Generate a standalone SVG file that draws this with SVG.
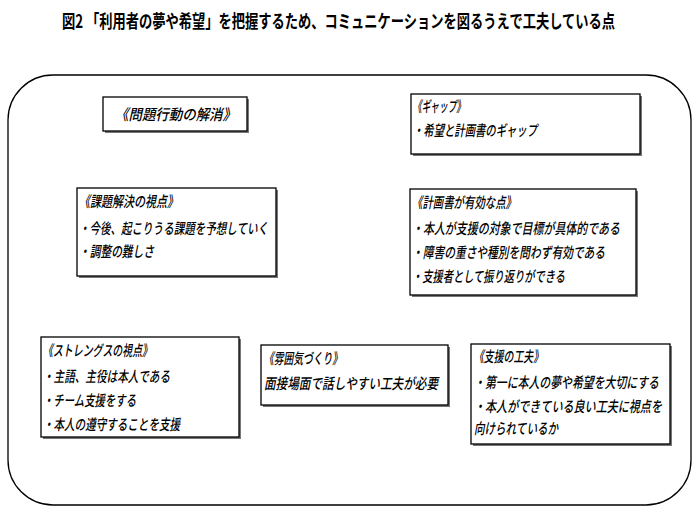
<svg xmlns="http://www.w3.org/2000/svg" width="700" height="514" viewBox="0 0 700 514">
<style>
text{font-family:"Noto Sans CJK JP","Noto Sans",sans-serif;font-size:15px;fill:#000;font-style:italic;font-weight:500}
.t{font-size:18px;font-weight:bold;font-style:normal}
.b{fill:#fff;stroke:#000;stroke-width:1.3}
.s{fill:#777}
</style>
<rect width="700" height="514" fill="#fff"/>
<text class="t" x="62" y="28" textLength="553" lengthAdjust="spacingAndGlyphs">図2 「利用者の夢や希望」を把握するため、コミュニケーションを図るうえで工夫している点</text>
<rect x="8" y="75" width="683" height="430" rx="45" fill="none" stroke="#000" stroke-width="1.3"/>
<g id="n1"><rect class="s" x="105" y="99" width="144" height="34"/><rect class="b" x="103" y="97" width="144" height="34"/>
<text x="115" y="120" textLength="121" lengthAdjust="spacingAndGlyphs">《問題行動の解消》</text></g>
<g id="n2"><rect class="s" x="413" y="96" width="229" height="60"/><rect class="b" x="411" y="94" width="229" height="60"/>
<text x="413" y="112" textLength="52" lengthAdjust="spacingAndGlyphs">《ギャップ》</text>
<text x="413" y="136" textLength="124" lengthAdjust="spacingAndGlyphs">・希望と計画書のギャップ</text></g>
<g id="n3"><rect class="s" x="79" y="190" width="199" height="88"/><rect class="b" x="77" y="188" width="199" height="88"/>
<text x="79" y="207" textLength="99" lengthAdjust="spacingAndGlyphs">《課題解決の視点》</text>
<text x="79" y="234" textLength="189" lengthAdjust="spacingAndGlyphs">・今後、起こりうる課題を予想していく</text>
<text x="79" y="257" textLength="75" lengthAdjust="spacingAndGlyphs">・調整の難しさ</text></g>
<g id="n4"><rect class="s" x="412" y="191" width="226" height="106"/><rect class="b" x="410" y="189" width="226" height="106"/>
<text x="412" y="208" textLength="104" lengthAdjust="spacingAndGlyphs">《計画書が有効な点》</text>
<text x="412" y="234" textLength="208" lengthAdjust="spacingAndGlyphs">・本人が支援の対象で目標が具体的である</text>
<text x="412" y="258" textLength="193" lengthAdjust="spacingAndGlyphs">・障害の重さや種別を問わず有効である</text>
<text x="412" y="282" textLength="153" lengthAdjust="spacingAndGlyphs">・支援者として振り返りができる</text></g>
<g id="n5"><rect class="s" x="43" y="339" width="198" height="100"/><rect class="b" x="41" y="337" width="198" height="100"/>
<text x="43" y="356" textLength="109" lengthAdjust="spacingAndGlyphs">《ストレングスの視点》</text>
<text x="43" y="382" textLength="127" lengthAdjust="spacingAndGlyphs">・主語、主役は本人である</text>
<text x="43" y="406" textLength="93" lengthAdjust="spacingAndGlyphs">・チーム支援をする</text>
<text x="43" y="430" textLength="137" lengthAdjust="spacingAndGlyphs">・本人の遵守することを支援</text></g>
<g id="n6"><rect class="s" x="263" y="347" width="187" height="60"/><rect class="b" x="261" y="345" width="187" height="60"/>
<text x="264" y="364" textLength="78" lengthAdjust="spacingAndGlyphs">《雰囲気づくり》</text>
<text x="264" y="389" textLength="174" lengthAdjust="spacingAndGlyphs">面接場面で話しやすい工夫が必要</text></g>
<g id="n7"><rect class="s" x="473" y="346" width="199" height="100"/><rect class="b" x="471" y="344" width="199" height="100"/>
<text x="474" y="362" textLength="69" lengthAdjust="spacingAndGlyphs">《支援の工夫》</text>
<text x="474" y="388" textLength="185" lengthAdjust="spacingAndGlyphs">・第一に本人の夢や希望を大切にする</text>
<text x="474" y="412" textLength="188" lengthAdjust="spacingAndGlyphs">・本人ができている良い工夫に視点を</text>
<text x="474" y="434" textLength="84" lengthAdjust="spacingAndGlyphs">向けられているか</text></g>
<g id="connectors"></g>
</svg>
